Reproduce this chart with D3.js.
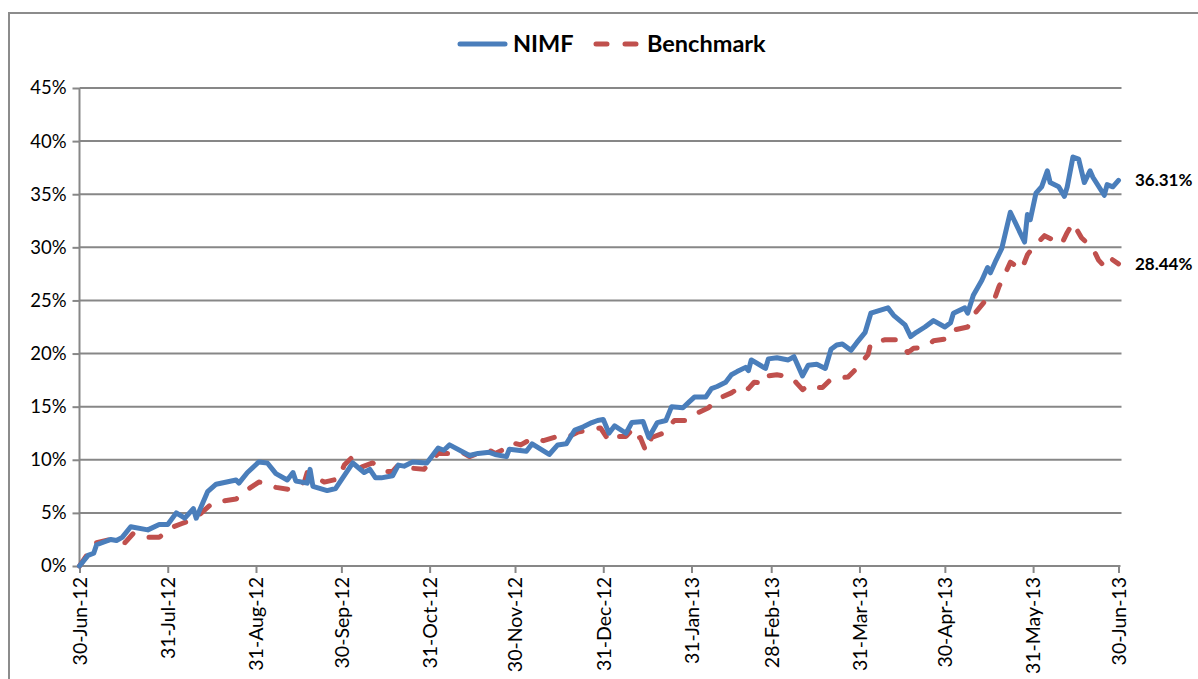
<!DOCTYPE html>
<html>
<head>
<meta charset="utf-8">
<script src="https://cdn.jsdelivr.net/npm/d3@7"></script>
<style>
  body { margin: 0; background: #fff; }
  svg { display: block; font-family: Lato, "Open Sans", sans-serif; }
</style>
</head>
<body>
<svg id="chart" width="1198" height="679"></svg>
<script>
// NIMF series (cumulative return, %)
const nimfDates = [
  "2012-06-30","2012-07-03","2012-07-05","2012-07-06","2012-07-11","2012-07-13","2012-07-15","2012-07-18",
  "2012-07-24","2012-07-28","2012-07-31","2012-08-03","2012-08-06","2012-08-09","2012-08-10","2012-08-14",
  "2012-08-17","2012-08-24","2012-08-25","2012-08-28","2012-09-01","2012-09-04","2012-09-07","2012-09-11",
  "2012-09-13","2012-09-14","2012-09-18","2012-09-19","2012-09-20","2012-09-25","2012-09-28","2012-09-30",
  "2012-10-04","2012-10-08","2012-10-10","2012-10-12","2012-10-14","2012-10-18","2012-10-20","2012-10-22",
  "2012-10-25","2012-10-30","2012-11-03","2012-11-05","2012-11-07","2012-11-14","2012-11-17","2012-11-21",
  "2012-11-23","2012-11-27","2012-11-28","2012-12-04","2012-12-06","2012-12-12","2012-12-15","2012-12-18",
  "2012-12-21","2012-12-24","2012-12-27","2012-12-29","2012-12-31","2013-01-02","2013-01-04","2013-01-08",
  "2013-01-10","2013-01-14","2013-01-16","2013-01-19","2013-01-22","2013-01-24","2013-01-28","2013-01-30",
  "2013-02-01","2013-02-05","2013-02-07","2013-02-09","2013-02-12","2013-02-14","2013-02-16","2013-02-19",
  "2013-02-20","2013-02-21","2013-02-26","2013-02-27","2013-03-02","2013-03-06","2013-03-08","2013-03-11",
  "2013-03-13","2013-03-16","2013-03-19","2013-03-21","2013-03-23","2013-03-25","2013-03-28","2013-03-30",
  "2013-04-02","2013-04-04","2013-04-10","2013-04-12","2013-04-16","2013-04-18","2013-04-20","2013-04-23",
  "2013-04-26","2013-04-30","2013-05-02","2013-05-03","2013-05-07","2013-05-08","2013-05-10","2013-05-13",
  "2013-05-15","2013-05-16","2013-05-18","2013-05-20","2013-05-23","2013-05-28","2013-05-29","2013-05-30",
  "2013-06-01","2013-06-03","2013-06-05","2013-06-06","2013-06-09","2013-06-11","2013-06-12","2013-06-14",
  "2013-06-16","2013-06-18","2013-06-20","2013-06-21","2013-06-25","2013-06-26","2013-06-28","2013-06-30"
];
const nimfValues = [
  0.0, 1.0, 1.2, 2.0, 2.5, 2.4, 2.7, 3.7,
  3.4, 3.9, 3.9, 5.0, 4.5, 5.4, 4.5, 7.0,
  7.7, 8.1, 7.8, 8.8, 9.8, 9.7, 8.7, 8.1,
  8.8, 8.0, 7.8, 9.1, 7.5, 7.1, 7.3, 8.1,
  9.7, 8.8, 9.1, 8.3, 8.3, 8.5, 9.5, 9.4,
  9.8, 9.7, 11.1, 10.9, 11.4, 10.4, 10.6, 10.7,
  10.5, 10.3, 11.0, 10.8, 11.5, 10.5, 11.4, 11.5,
  12.8, 13.1, 13.5, 13.7, 13.8, 12.5, 13.2, 12.5,
  13.5, 13.6, 12.1, 13.5, 13.7, 15.0, 14.9, 15.4,
  15.9, 15.9, 16.7, 16.9, 17.3, 18.0, 18.3, 18.7,
  18.4, 19.4, 18.6, 19.5, 19.6, 19.4, 19.7, 17.9,
  18.9, 19.0, 18.6, 20.4, 20.8, 20.9, 20.3, 21.0,
  22.0, 23.8, 24.3, 23.6, 22.7, 21.6, 22.0, 22.5,
  23.1, 22.5, 22.9, 23.8, 24.3, 23.8, 25.5, 26.9,
  28.1, 27.6, 28.8, 29.9, 33.3, 30.5, 33.1, 32.6,
  35.1, 35.7, 37.2, 36.1, 35.7, 34.8, 35.7, 38.5,
  38.3, 36.1, 37.2, 36.6, 34.9, 35.9, 35.7, 36.31
];

// Benchmark series (cumulative return, %)
const benchDates = [
  "2012-06-30","2012-07-03","2012-07-06","2012-07-11","2012-07-16","2012-07-19","2012-07-24","2012-07-28",
  "2012-08-02","2012-08-05","2012-08-09","2012-08-11","2012-08-16","2012-08-24","2012-08-28","2012-09-01",
  "2012-09-04","2012-09-07","2012-09-12","2012-09-17","2012-09-18","2012-09-24","2012-09-29","2012-10-01",
  "2012-10-04","2012-10-07","2012-10-11","2012-10-13","2012-10-16","2012-10-18","2012-10-20","2012-10-25",
  "2012-10-29","2012-11-03","2012-11-07","2012-11-09","2012-11-12","2012-11-14","2012-11-18","2012-11-21",
  "2012-11-23","2012-11-27","2012-11-29","2012-12-02","2012-12-06","2012-12-10","2012-12-15","2012-12-19",
  "2012-12-22","2012-12-28","2012-12-30","2013-01-02","2013-01-04","2013-01-08","2013-01-10","2013-01-11",
  "2013-01-13","2013-01-15","2013-01-17","2013-01-21","2013-01-25","2013-01-29","2013-02-02","2013-02-06",
  "2013-02-09","2013-02-14","2013-02-18","2013-02-20","2013-02-22","2013-02-26","2013-02-27","2013-03-02",
  "2013-03-07","2013-03-09","2013-03-11","2013-03-13","2013-03-15","2013-03-18","2013-03-21","2013-03-27",
  "2013-03-30","2013-04-03","2013-04-04","2013-04-09","2013-04-13","2013-04-17","2013-04-19","2013-04-23",
  "2013-04-26","2013-05-01","2013-05-03","2013-05-08","2013-05-10","2013-05-14","2013-05-17","2013-05-19",
  "2013-05-21","2013-05-23","2013-05-27","2013-05-29","2013-05-31","2013-06-04","2013-06-07","2013-06-10",
  "2013-06-12","2013-06-14","2013-06-17","2013-06-19","2013-06-21","2013-06-23","2013-06-25","2013-06-27",
  "2013-06-30"
];
const benchValues = [
  0.0, 1.2, 2.2, 2.5, 2.2, 3.1, 2.7, 2.7,
  3.7, 4.0, 4.4, 4.8, 6.0, 6.3, 7.2, 7.9,
  7.8, 7.4, 7.2, 7.9, 8.8, 7.9, 8.2, 9.5,
  10.3, 9.3, 9.7, 9.3, 8.9, 8.9, 9.5, 9.2,
  9.1, 10.6, 10.6, 10.8, 10.6, 10.3, 10.7, 10.9,
  10.6, 11.1, 11.6, 11.4, 12.0, 11.8, 12.2, 12.2,
  12.6, 12.9, 13.0, 11.8, 12.2, 12.2, 12.8, 12.0,
  12.1, 10.8, 12.1, 12.5, 13.7, 13.7, 14.4, 14.9,
  15.7, 16.3, 17.0, 16.7, 17.3, 17.2, 17.9, 18.0,
  17.8, 17.2, 16.6, 17.0, 16.8, 16.8, 17.6, 17.8,
  18.6, 19.9, 21.0, 21.3, 21.3, 20.1, 20.5, 20.6,
  21.2, 21.4, 22.2, 22.5, 23.6, 24.9, 24.8, 26.3,
  27.4, 28.6, 27.9, 29.3, 30.0, 31.1, 30.7, 30.3,
  31.4, 32.3, 30.9, 30.4, 29.9, 28.8, 28.2, 29.0,
  28.44
];

const yTicks = [0, 5, 10, 15, 20, 25, 30, 35, 40, 45];
const xTickDates = [
  "2012-06-30","2012-07-31","2012-08-31","2012-09-30","2012-10-31","2012-11-30","2012-12-31",
  "2013-01-31","2013-02-28","2013-03-31","2013-04-30","2013-05-31","2013-06-30"
];
const seriesNames = ["NIMF", "Benchmark"];

const blue = "#4a7ebb", red = "#c0504d", grid = "#878787";
const parse = d3.timeParse("%Y-%m-%d");
const fmt = d3.timeFormat("%d-%b-%y");

const svg = d3.select("#chart");
const plotLeft = 79.5, plotRight = 1118.5, plotTop = 88, plotBottom = 566;

const x = d3.scaleTime()
  .domain([parse("2012-06-30"), parse("2013-06-30")])
  .range([plotLeft, plotRight]);
const y = d3.scaleLinear().domain([0, 45]).range([plotBottom, plotTop]);

// outer frame
svg.append("path")
  .attr("d", "M9,690 L9,13 L1200,13")
  .attr("fill", "none").attr("stroke", "#8c8c8c").attr("stroke-width", 2);

// gridlines
svg.append("g").selectAll("line").data(yTicks.filter(d => d > 0)).join("line")
  .attr("x1", plotLeft).attr("x2", plotRight + 3)
  .attr("y1", d => y(d)).attr("y2", d => y(d))
  .attr("stroke", grid).attr("stroke-width", 2);

// y axis
const yAxis = d3.axisLeft(y).tickValues(yTicks).tickSize(7).tickPadding(6)
  .tickFormat(d => d + "%");
const gy = svg.append("g").attr("transform", `translate(${plotLeft},0)`).call(yAxis);
gy.select(".domain").attr("stroke", grid).attr("stroke-width", 2)
  .attr("d", `M0,${plotBottom}V${plotTop}`);
gy.selectAll(".tick line").attr("stroke", grid).attr("stroke-width", 2);
gy.selectAll(".tick text").attr("font-size", 18.5).attr("fill", "#000")
  .attr("font-family", "Lato, sans-serif");

// x axis
const xAxis = d3.axisBottom(x).tickValues(xTickDates.map(parse)).tickSize(7).tickFormat(fmt);
const gx = svg.append("g").attr("transform", `translate(0,${plotBottom})`).call(xAxis);
gx.select(".domain").attr("stroke", grid).attr("stroke-width", 2)
  .attr("d", `M${plotLeft},0H${plotRight + 2}`);
gx.selectAll(".tick line").attr("stroke", grid).attr("stroke-width", 2);
gx.selectAll(".tick text")
  .attr("font-size", 19.5).attr("fill", "#000").attr("font-family", "Lato, sans-serif")
  .attr("text-anchor", "end")
  .attr("transform", "rotate(-90)")
  .attr("x", -11).attr("y", 0).attr("dy", "0.35em");

// lines
const line = d3.line().x(d => x(d[0])).y(d => y(d[1]));
const nimf = nimfDates.map((d, i) => [parse(d), nimfValues[i]]);
const bench = benchDates.map((d, i) => [parse(d), benchValues[i]]);

svg.append("path").datum(bench).attr("d", line)
  .attr("fill", "none").attr("stroke", red).attr("stroke-width", 5)
  .attr("stroke-linecap", "round").attr("stroke-linejoin", "round")
  .attr("stroke-dasharray", "12,17");

svg.append("path").datum(nimf).attr("d", line)
  .attr("fill", "none").attr("stroke", blue).attr("stroke-width", 5)
  .attr("stroke-linecap", "round").attr("stroke-linejoin", "round");

// end labels
const ends = [nimf[nimf.length - 1], bench[bench.length - 1]];
svg.append("g").selectAll("text").data(ends).join("text")
  .attr("x", 1135).attr("y", d => y(d[1]))
  .attr("dy", "0.35em")
  .attr("font-size", 17).attr("font-weight", "bold")
  .text(d => d[1].toFixed(2) + "%");

// legend
const lg = svg.append("g");
lg.append("line").attr("x1", 460).attr("x2", 505).attr("y1", 44).attr("y2", 44)
  .attr("stroke", blue).attr("stroke-width", 5).attr("stroke-linecap", "round");
lg.append("text").attr("x", 513).attr("y", 52).attr("font-size", 23.5).attr("font-weight", "bold")
  .text(seriesNames[0]);
lg.append("line").attr("x1", 596).attr("x2", 636).attr("y1", 44).attr("y2", 44)
  .attr("stroke", red).attr("stroke-width", 5).attr("stroke-linecap", "round")
  .attr("stroke-dasharray", "11,18");
lg.append("text").attr("x", 647).attr("y", 52).attr("font-size", 23.5).attr("font-weight", "bold")
  .text(seriesNames[1]);
</script>
</body>
</html>
